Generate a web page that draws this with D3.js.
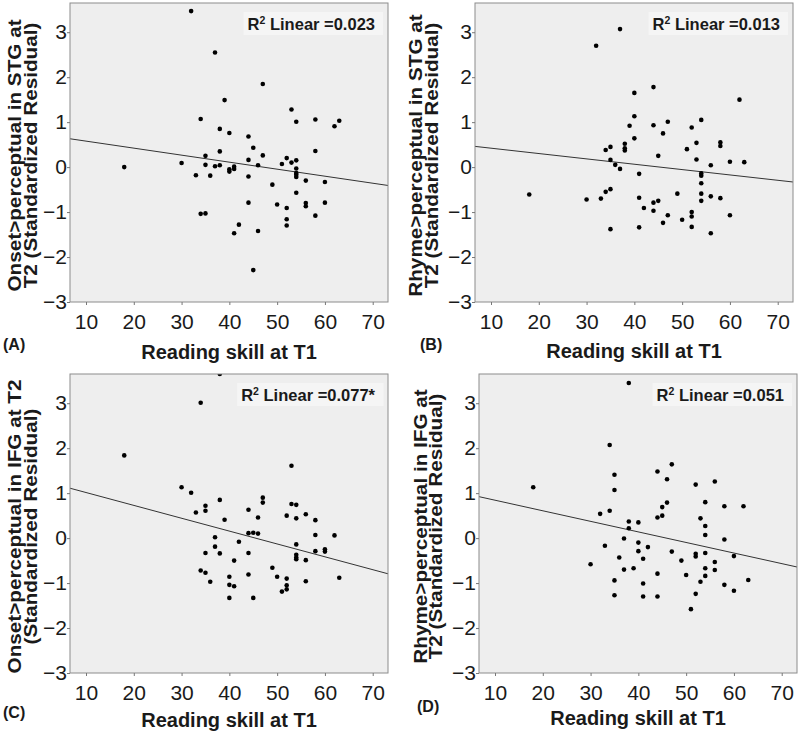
<!DOCTYPE html>
<html><head><meta charset="utf-8">
<script src="https://cdn.jsdelivr.net/npm/d3@7"></script>
<style>
body{margin:0;background:#fff;}
text{font-family:"Liberation Sans",Arial,sans-serif;}
</style></head>
<body><svg id="chart" width="800" height="735"></svg>
<script>
// ---------- data ----------
const xTicks = [10, 20, 30, 40, 50, 60, 70];
const yTicks = [-3, -2, -1, 0, 1, 2, 3];
const panelLetters = ["(A)", "(B)", "(C)", "(D)"];
const xTitle = "Reading skill at T1";
const yTitles = [
  ["Onset>perceptual in STG at", "T2 (Standardized Residual)"],
  ["Rhyme>perceptual in STG at", "T2 (Standardized Residual)"],
  ["Onset>perceptual in IFG at T2", "(Standardized Residual)"],
  ["Rhyme>perceptual in IFG at", "T2 (Standardized Residual)"]
];
const r2Values = ["0.023", "0.013", "0.077*", "0.051"];
const fitIntercepts = [0.734, 0.54, 1.30, 1.078];
const fitSlopes = [-0.0156, -0.0119, -0.0286, -0.0235];

const readingA = [32,37,47,39,53,34,54,58,63,62,38,40,44,45,38,58,35,47,44,52,54,51,53,30,18,35,37,38,41,41,40,40,46,54,54,54,54,33,36,44,56,60,49,54,44,50,56,56,60,52,34,35,58,52,52,42,41,46,45];
const residA = [3.47,2.55,1.85,1.49,1.28,1.07,1.01,1.06,1.03,0.91,0.85,0.76,0.68,0.43,0.35,0.36,0.25,0.26,0.16,0.20,0.15,0.07,0.10,0.09,0.00,0.05,0.02,0.04,0.01,-0.04,-0.05,-0.10,0.04,-0.03,-0.13,-0.17,-0.22,-0.18,-0.19,-0.21,-0.30,-0.33,-0.39,-0.57,-0.79,-0.83,-0.80,-0.87,-0.79,-0.91,-1.04,-1.03,-1.08,-1.16,-1.30,-1.28,-1.47,-1.42,-2.29];

const readingB = [37,32,44,40,62,40,54,47,39,44,52,46,40,58,58,53,38,35,34,38,38,51,45,35,53,60,63,36,56,37,41,54,54,54,35,34,18,49,54,30,33,41,56,58,45,44,54,42,44,52,52,47,60,50,46,35,41,52,56];
const residB = [3.07,2.70,1.78,1.65,1.50,1.13,1.05,1.01,0.92,0.93,0.88,0.75,0.64,0.55,0.47,0.54,0.52,0.45,0.38,0.42,0.37,0.40,0.25,0.16,0.17,0.12,0.11,0.05,0.04,-0.04,-0.15,-0.14,-0.19,-0.36,-0.49,-0.55,-0.61,-0.59,-0.59,-0.72,-0.70,-0.68,-0.65,-0.69,-0.75,-0.79,-0.75,-0.91,-0.97,-1.00,-1.10,-1.07,-1.07,-1.17,-1.24,-1.38,-1.34,-1.33,-1.47];

const readingC = [38,34,18,53,30,32,38,47,47,53,54,35,35,33,44,46,52,56,54,39,58,44,45,46,58,62,37,42,54,37,58,60,60,35,38,44,54,54,54,56,41,49,34,35,44,50,52,63,36,56,40,40,41,52,52,51,40,45];
const residC = [3.65,3.01,1.84,1.61,1.13,1.01,0.85,0.90,0.79,0.76,0.74,0.72,0.61,0.57,0.63,0.46,0.50,0.53,0.44,0.41,0.40,0.11,0.12,0.10,0.07,0.06,0.02,-0.08,-0.14,-0.19,-0.29,-0.25,-0.30,-0.33,-0.34,-0.33,-0.37,-0.43,-0.47,-0.49,-0.50,-0.66,-0.72,-0.77,-0.81,-0.86,-0.90,-0.88,-0.97,-0.96,-0.86,-1.04,-1.07,-1.05,-1.14,-1.19,-1.33,-1.33];

const readingD = [38,34,47,44,35,46,56,52,18,35,54,46,45,58,62,34,32,45,44,53,38,40,54,38,54,37,58,40,33,42,40,47,52,54,52,60,36,41,49,56,30,37,39,54,56,44,50,54,35,53,63,41,58,60,52,35,41,44,51];
const residD = [3.45,2.07,1.64,1.48,1.41,1.31,1.26,1.19,1.13,1.07,0.80,0.79,0.69,0.71,0.71,0.61,0.54,0.50,0.46,0.44,0.37,0.35,0.27,0.22,0.07,-0.01,-0.03,-0.10,-0.17,-0.20,-0.29,-0.30,-0.35,-0.33,-0.41,-0.40,-0.43,-0.46,-0.50,-0.53,-0.58,-0.70,-0.67,-0.67,-0.71,-0.79,-0.82,-0.84,-0.94,-0.97,-0.93,-1.01,-1.04,-1.17,-1.24,-1.27,-1.30,-1.30,-1.58];

const readingAll = [readingA, readingB, readingC, readingD];
const residAll = [residA, residB, residC, residD];

// ---------- layout ----------
const W = 318, H = 299;
const frames = [
  {left: 70, top: 3, titleBase: 57, letterX: 3, letterBase: 350, yt: [-49, -33]},
  {left: 475, top: 3, titleBase: 56, letterX: 420, letterBase: 350, yt: [-53, -37]},
  {left: 70, top: 374, titleBase: 54, letterX: 3, letterBase: 718, yt: [-49, -33]},
  {left: 479, top: 374, titleBase: 52, letterX: 417, letterBase: 712, yt: [-52, -37]}
];
const x = d3.scaleLinear().domain([6.65, 73.2]).range([0, W]);
const y = d3.scaleLinear().domain([-3, 3.65]).range([H, 0]);

const svg = d3.select("#chart");

frames.forEach((f, i) => {
  const g = svg.append("g").attr("transform", `translate(${f.left},${f.top})`);

  g.append("rect").attr("width", W).attr("height", H)
    .attr("fill", "#eeeeee");

  const clipId = "clip" + i;
  g.append("clipPath").attr("id", clipId)
    .append("rect").attr("width", W).attr("height", H);

  // R² label box
  const rb = g.append("g").attr("transform", `translate(${W - 13},27)`);
  const rt = rb.append("text").attr("text-anchor", "end")
    .attr("font-size", 16.5).attr("font-weight", "bold").attr("fill", "#1a1a1a");
  rt.append("tspan").text("R");
  rt.append("tspan").attr("font-size", 10.5).attr("dy", -6).text("2");
  rt.append("tspan").attr("dy", 6).text(" Linear =" + r2Values[i]);
  const bb = rt.node().getBBox();
  rb.insert("rect", "text").attr("x", bb.x - 4).attr("y", bb.y - 2)
    .attr("width", bb.width + 12).attr("height", bb.height + 4)
    .attr("fill", "#f5f5f5");

  const inner = g.append("g").attr("clip-path", `url(#${clipId})`);

  // regression line
  const dom = x.domain();
  inner.append("line")
    .attr("x1", x(dom[0])).attr("y1", y(fitIntercepts[i] + fitSlopes[i] * dom[0]))
    .attr("x2", x(dom[1])).attr("y2", y(fitIntercepts[i] + fitSlopes[i] * dom[1]))
    .attr("stroke", "#333").attr("stroke-width", 1);

  // points
  const pts = readingAll[i].map((v, k) => [v, residAll[i][k]]);
  inner.selectAll("circle").data(pts).join("circle")
    .attr("cx", d => x(d[0])).attr("cy", d => y(d[1]))
    .attr("r", 2.3).attr("fill", "#000");

  // frame
  g.append("rect").attr("width", W).attr("height", H)
    .attr("fill", "none").attr("stroke", "#8c8c8c").attr("stroke-width", 1);

  // axes
  const xa = g.append("g").attr("transform", `translate(0,${H})`)
    .call(d3.axisBottom(x).tickValues(xTicks).tickSize(3).tickPadding(9).tickFormat(d3.format("d")));
  xa.select(".domain").remove();
  xa.selectAll("line").attr("stroke", "#777");
  xa.selectAll("text").attr("font-size", 21).attr("fill", "#1a1a1a")
    .attr("font-family", "Liberation Sans, Arial, sans-serif");

  const ya = g.append("g")
    .call(d3.axisLeft(y).tickValues(yTicks).tickSize(3).tickPadding(0).tickFormat(d3.format("d")));
  ya.select(".domain").remove();
  ya.selectAll("line").attr("stroke", "#777");
  ya.selectAll("text").attr("font-size", 21).attr("fill", "#1a1a1a")
    .attr("font-family", "Liberation Sans, Arial, sans-serif");

  // x title
  g.append("text").attr("x", W / 2).attr("y", H + f.titleBase)
    .attr("text-anchor", "middle").attr("font-size", 20).attr("font-weight", "bold")
    .attr("fill", "#1a1a1a").text(xTitle);

  // y title (two lines)
  const cy = H / 2 + 3;
  yTitles[i].forEach((line, li) => {
    g.append("text")
      .attr("transform", `translate(${f.yt[li]},${cy}) rotate(-90) scale(1.12,1)`)
      .attr("text-anchor", "middle").attr("font-size", 18.5).attr("font-weight", "bold")
      .attr("fill", "#1a1a1a").text(line);
  });

  // panel letter
  svg.append("text").attr("x", f.letterX).attr("y", f.letterBase)
    .attr("font-size", 16).attr("font-weight", "bold").attr("fill", "#1a1a1a")
    .text(panelLetters[i]);
});
</script>
</body></html>
